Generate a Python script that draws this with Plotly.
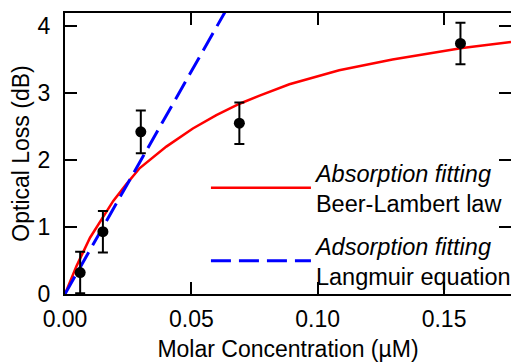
import plotly.graph_objects as go

# measured data
conc = [0.006, 0.015, 0.030, 0.069, 0.1565]
loss = [0.32, 0.93, 2.42, 2.55, 3.74]
loss_err = [0.31, 0.31, 0.32, 0.31, 0.31]

# Beer-Lambert (absorption) fit curve
bl_x = [0, 0.0046, 0.0099, 0.0151, 0.0191, 0.0243, 0.0296, 0.0401, 0.0506,
        0.0599, 0.0691, 0.0770, 0.0888, 0.1085, 0.1296, 0.1572, 0.1765]
bl_y = [0, 0.42, 0.84, 1.16, 1.39, 1.64, 1.88, 2.20, 2.47,
        2.67, 2.84, 2.96, 3.13, 3.34, 3.50, 3.67, 3.76]

# Langmuir (adsorption) fit line
lg_x = [0, 0.065]
lg_y = [0, 4.32]

x_ticks = [0.00, 0.05, 0.10, 0.15]
x_labels = ["0.00", "0.05", "0.10", "0.15"]
y_ticks = [0, 1, 2, 3, 4]

FONT = "Liberation Sans, Arial, sans-serif"

fig = go.Figure()
fig.add_trace(go.Scatter(
    x=bl_x, y=bl_y, mode="lines",
    line=dict(color="#ff0000", width=2.5),
    name="<i>Absorption fitting</i><br>Beer-Lambert law",
    legendgroup="a"))
fig.add_trace(go.Scatter(
    x=lg_x, y=lg_y, mode="lines",
    line=dict(color="#0000ff", width=3, dash="20px,8px"),
    name="<i>Adsorption fitting</i><br>Langmuir equation",
    legendgroup="b"))
fig.add_trace(go.Scatter(
    x=conc, y=loss, mode="markers",
    marker=dict(color="black", size=11),
    error_y=dict(type="data", array=loss_err, color="black", thickness=2, width=5),
    showlegend=False))

axis_common = dict(
    showline=True, linecolor="black", linewidth=2, mirror="ticks",
    ticks="inside", ticklen=12, tickwidth=2, tickcolor="black",
    showgrid=False, zeroline=False,
    tickfont=dict(family=FONT, size=23, color="black"),
)

fig.update_xaxes(range=[0, 0.1765], tickvals=x_ticks, ticktext=x_labels,
                 ticklabelstandoff=3,
                 title=dict(text="Molar Concentration (µM)", standoff=17,
                            font=dict(family=FONT, size=23, color="black")),
                 **axis_common)
fig.update_yaxes(range=[0, 4.194], tickvals=y_ticks,
                 ticklabelstandoff=8,
                 title=dict(text="Optical Loss (dB)", standoff=2,
                            font=dict(family=FONT, size=23, color="black")),
                 **axis_common)

fig.update_layout(
    width=511, height=362,
    margin=dict(l=65, r=0, t=13, b=68, autoexpand=False),
    plot_bgcolor="white", paper_bgcolor="white",
    font=dict(family=FONT, size=23, color="black"),
    legend=dict(x=0.316, y=0.51, xanchor="left", yanchor="top",
                bgcolor="rgba(0,0,0,0)", borderwidth=0,
                itemwidth=100, tracegroupgap=9,
                font=dict(family=FONT, size=23.5, color="black")),
)

fig.write_html("out.html", config={"displayModeBar": False},
               post_script="document.body.style.margin='0';")
